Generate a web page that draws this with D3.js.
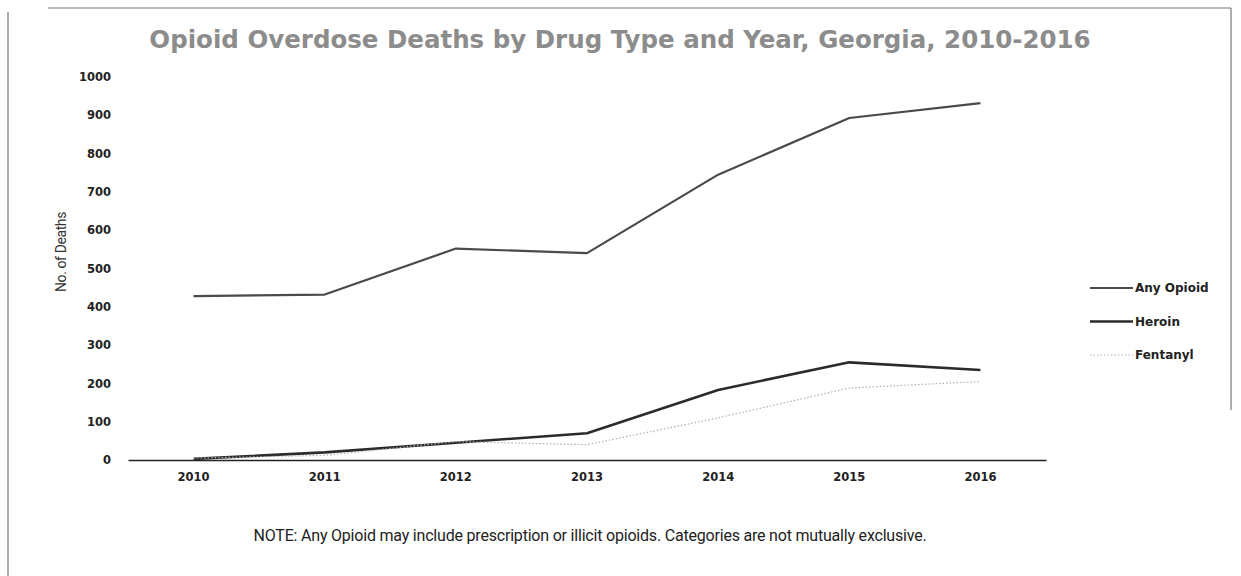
<!DOCTYPE html>
<html>
<head>
<meta charset="utf-8">
<script src="https://cdn.jsdelivr.net/npm/d3@7"></script>
<style>
  body { margin: 0; background: #fff; }
  svg { display: block; }
</style>
</head>
<body>
<div id="chart"></div>
<script>
// Opioid overdose deaths line chart

var years = ['2010', '2011', '2012', '2013', '2014', '2015', '2016'];
var anyOpioid = [428, 432, 552, 540, 745, 893, 932];
var heroin = [3, 20, 45, 70, 183, 255, 235];
var fentanyl = [5, 12, 48, 40, 110, 188, 205];
var yTicks = [0, 100, 200, 300, 400, 500, 600, 700, 800, 900, 1000];
var seriesNames = ['Any Opioid', 'Heroin', 'Fentanyl'];

var svgWidth = 1241;
var svgHeight = 576;

var svg = d3.select('#chart').append('svg')
    .attr('width', svgWidth)
    .attr('height', svgHeight);

// frame round the picture
var frame = svg.append('g')
    .attr('stroke', '#777')
    .attr('stroke-width', 1.2)
    .attr('fill', 'none');
frame.append('path').attr('d', 'M8,12 V576');
frame.append('path').attr('d', 'M48,8 H1231');
frame.append('path').attr('d', 'M1231,8 V410');

var xScale = d3.scaleBand()
    .domain(years)
    .range([128, 1046]);

var yScale = d3.scaleLinear()
    .domain([0, 1000])
    .range([460, 77]);

var xPos = function(d, i) { return xScale(years[i]) + xScale.bandwidth() / 2; };

// Title
svg.append('text')
    .attr('x', 620)
    .attr('y', 48)
    .attr('text-anchor', 'middle')
    .style('font-family', 'DejaVu Sans, sans-serif')
    .style('font-size', '24.5px')
    .style('font-weight', 700)
    .style('fill', '#8c8c8c')
    .text('Opioid Overdose Deaths by Drug Type and Year, Georgia, 2010-2016');

// Y-Axis
var yAxis = d3.axisLeft(yScale)
    .tickValues(yTicks)
    .tickFormat(d3.format('d'))
    .tickSize(0)
    .tickPadding(17);

var yG = svg.append('g')
    .attr('transform', 'translate(128,0)')
    .call(yAxis);
yG.select('.domain').remove();
yG.selectAll('text')
    .style('font-family', 'DejaVu Sans, sans-serif')
    .style('font-size', '11.5px')
    .style('font-weight', 700)
    .style('fill', '#222');

// X-Axis
var xAxis = d3.axisBottom(xScale)
    .tickSize(0)
    .tickPadding(13);

var xG = svg.append('g')
    .attr('transform', 'translate(0,460)')
    .call(xAxis);
xG.select('.domain')
    .attr('stroke', '#222')
    .attr('stroke-width', 1.6);
xG.selectAll('text')
    .style('font-family', 'DejaVu Sans, sans-serif')
    .style('font-size', '11.5px')
    .style('font-weight', 700)
    .style('fill', '#222');

// Y label
svg.append('text')
    .attr('transform', 'translate(66,252) rotate(-90)')
    .attr('text-anchor', 'middle')
    .style('font-family', 'Roboto, sans-serif')
    .style('font-size', '14px')
    .style('letter-spacing', '-0.4px')
    .style('fill', '#333')
    .text('No. of Deaths');

// Lines
var line = d3.line()
    .x(xPos)
    .y(function(d) { return yScale(d); });

var styles = [
    { data: anyOpioid, stroke: '#4a4a4a', width: 2.2, dash: null },
    { data: heroin, stroke: '#2b2b2b', width: 2.6, dash: null },
    { data: fentanyl, stroke: '#b0b0b0', width: 1.2, dash: '1.5,2' }
];

svg.selectAll('path.series')
    .data(styles)
    .enter().append('path')
        .attr('class', 'series')
        .attr('d', function(s) { return line(s.data); })
        .attr('fill', 'none')
        .attr('stroke', function(s) { return s.stroke; })
        .attr('stroke-width', function(s) { return s.width; })
        .attr('stroke-dasharray', function(s) { return s.dash; })
        .attr('stroke-linejoin', 'round');

// Legend
var legend = svg.selectAll('g.legend')
    .data(seriesNames)
    .enter().append('g')
        .attr('class', 'legend')
        .attr('transform', function(d, i) { return 'translate(1090,' + (288 + i * 33.5) + ')'; });

legend.append('line')
    .attr('x1', 0)
    .attr('x2', 43)
    .attr('stroke', function(d, i) { return styles[i].stroke; })
    .attr('stroke-width', function(d, i) { return styles[i].width; })
    .attr('stroke-dasharray', function(d, i) { return styles[i].dash; });

legend.append('text')
    .attr('x', 45)
    .attr('dy', '0.35em')
    .style('font-family', 'DejaVu Sans, sans-serif')
    .style('font-size', '12px')
    .style('font-weight', 700)
    .style('fill', '#222')
    .text(function(d) { return d; });

// Note
svg.append('text')
    .attr('x', 590)
    .attr('y', 541)
    .attr('text-anchor', 'middle')
    .style('font-family', 'Roboto, sans-serif')
    .style('font-size', '16px')
    .style('letter-spacing', '-0.2px')
    .style('fill', '#222')
    .text('NOTE: Any Opioid may include prescription or illicit opioids. Categories are not mutually exclusive.');
</script>
</body>
</html>
